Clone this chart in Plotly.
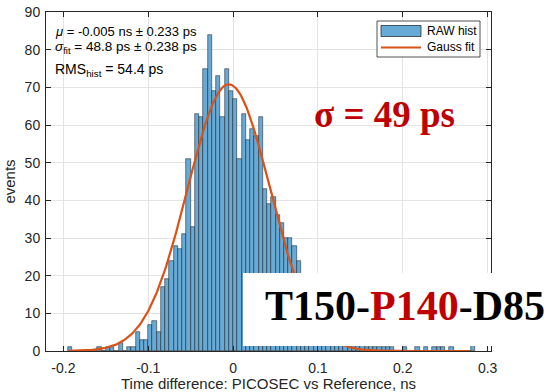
import numpy as np
import plotly.graph_objects as go

# ---------------- data ----------------
BIN_START = -0.195          # left edge of first histogram bin, ns
BIN_WIDTH = 0.005           # ns
COUNTS = [
    1, 0, 0, 0, 0, 0, 0, 1, 0, 1,          # -0.195 .. -0.150
    1, 0, 2, 0, 1, 1, 5, 3, 3, 7,          # -0.145 .. -0.100
    8, 5, 17, 19, 24, 28, 27, 31, 51, 33,  # -0.095 .. -0.050
    63, 62, 75, 84, 69, 73, 62, 75, 69, 67,  # -0.045 .. 0.000
    51, 63, 56, 59, 57, 62, 43, 39, 41, 36,  # 0.005 .. 0.050
    34, 30, 30, 28, 24, 18, 15, 13, 10, 8,   # 0.055 .. 0.100
    7, 6, 5, 4, 3, 3, 2, 2, 2, 2,            # 0.105 .. 0.150
    1, 2, 1, 1, 1, 1, 1, 0, 0, 1,            # 0.155 .. 0.200
    0, 0, 1, 0, 1, 0, 1, 1, 1, 0,            # 0.205 .. 0.250
    1, 0, 0, 0, 0, 2,                        # 0.255 .. 0.280
]

# Gauss fit parameters (from the fit annotation / curve)
FIT_MU = -0.005     # ns
FIT_SIGMA = 0.0488  # ns
FIT_AMP = 70.8      # events
FIT_X_MIN = -0.194
FIT_X_MAX = 0.279

X_TICKS = [-0.2, -0.1, 0, 0.1, 0.2, 0.3]
X_TICK_LABELS = ["-0.2", "-0.1", "0", "0.1", "0.2", "0.3"]
Y_TICKS = [0, 10, 20, 30, 40, 50, 60, 70, 80, 90]

SERIES_NAMES = ["RAW hist", "Gauss fit"]
STAT_LINES = [
    "<i>μ</i> = -0.005 ns ± 0.233 ps",
    "<i>σ</i><sub>fit</sub> = 48.8 ps ± 0.238 ps",
    "RMS<sub>hist</sub> = 54.4 ps",
]
SIGMA_LABEL = "σ = 49 ps"
SAMPLE_LABEL_PARTS = [("T150-", "#000000"), ("P140", "#C00000"), ("-D85", "#000000")]

# ---------------- figure ----------------
counts = np.array(COUNTS, dtype=float)
centers = BIN_START + BIN_WIDTH * (np.arange(len(counts)) + 0.5)

fx = np.linspace(FIT_X_MIN, FIT_X_MAX, 400)
fy = FIT_AMP * np.exp(-((fx - FIT_MU) ** 2) / (2 * FIT_SIGMA ** 2))

FONT = "Liberation Sans, Arial, sans-serif"
SERIF = "Liberation Serif, Times New Roman, serif"
AX = "#262626"
GRID = "#E3E3E3"
BAR_COLOR = "#66AAD7"
BAR_EDGE = "rgba(20,20,20,0.85)"
FIT_COLOR = "#D95319"

W, H = 551, 392
ML, MR, MT, MB = 46, 60, 12, 41
PW, PH = W - ML - MR, H - MT - MB


def px(x):   # figure pixel -> paper x
    return (x - ML) / PW


def py(y):   # figure pixel -> paper y
    return (H - MB - y) / PH


fig = go.Figure()
fig.add_trace(go.Bar(
    x=centers, y=counts, width=BIN_WIDTH,
    marker=dict(color=BAR_COLOR, line=dict(color=BAR_EDGE, width=0.6)),
    name=SERIES_NAMES[0], showlegend=False,
))
fig.add_trace(go.Scatter(
    x=fx, y=fy, mode="lines",
    line=dict(color=FIT_COLOR, width=2.2),
    name=SERIES_NAMES[1], showlegend=False,
))

fig.update_layout(
    width=W, height=H,
    margin=dict(l=ML, r=MR, t=MT, b=MB),
    paper_bgcolor="white", plot_bgcolor="white",
    font=dict(family=FONT, size=14, color=AX),
    bargap=0,
    showlegend=False,
)
fig.update_xaxes(
    range=[-0.2205, 0.304], automargin=False,
    tickvals=X_TICKS, ticktext=X_TICK_LABELS,
    ticks="inside", ticklen=5, tickcolor=AX,
    showline=True, linecolor=AX, linewidth=1, mirror="ticks",
    showgrid=True, gridcolor=GRID, gridwidth=1, zeroline=False,
    tickfont=dict(size=14, color=AX), ticklabelstandoff=4,
    title=dict(text="Time difference: PICOSEC vs Reference, ns",
               font=dict(size=15, color=AX), standoff=3),
)
fig.update_yaxes(
    range=[0, 90], automargin=False,
    tickvals=Y_TICKS,
    ticks="inside", ticklen=5, tickcolor=AX,
    showline=True, linecolor=AX, linewidth=1, mirror="ticks",
    showgrid=True, gridcolor=GRID, gridwidth=1, zeroline=False,
    tickfont=dict(size=14, color=AX), ticklabelstandoff=2,
    title=dict(text="events", font=dict(size=15, color=AX), standoff=5),
)

# statistics text (top-left)
for txt, yy, fs in zip(STAT_LINES, [31, 47, 70], [13, 13.5, 14]):
    fig.add_annotation(x=px(53), y=py(yy), xref="paper", yref="paper",
                       text=txt, showarrow=False, xanchor="left", yanchor="middle",
                       font=dict(family=FONT, size=fs, color="#000000"))

# legend drawn like the MATLAB legend box
fig.add_shape(type="rect", xref="paper", yref="paper",
              x0=px(377), x1=px(480), y0=py(57), y1=py(21),
              fillcolor="white", line=dict(color=AX, width=0.8), layer="above")
fig.add_shape(type="rect", xref="paper", yref="paper",
              x0=px(381), x1=px(421), y0=py(36.5), y1=py(25.5),
              fillcolor=BAR_COLOR, line=dict(color=BAR_EDGE, width=0.8), layer="above")
fig.add_shape(type="line", xref="paper", yref="paper",
              x0=px(381), x1=px(421), y0=py(47.5), y1=py(47.5),
              line=dict(color=FIT_COLOR, width=2.2), layer="above")
for name, yy in zip(SERIES_NAMES, [31.5, 47.5]):
    fig.add_annotation(x=px(425), y=py(yy), xref="paper", yref="paper",
                       text=name, showarrow=False, xanchor="left", yanchor="middle",
                       font=dict(family=FONT, size=12, color="#000000"))

# big red sigma label
fig.add_annotation(x=px(384), y=py(115), xref="paper", yref="paper",
                   text="<b>" + SIGMA_LABEL + "</b>", showarrow=False,
                   xanchor="center", yanchor="middle",
                   font=dict(family=SERIF, size=37, color="#C00000"))

# white box with the sample label
fig.add_shape(type="rect", xref="paper", yref="paper",
              x0=px(243), x1=px(560), y0=py(346), y1=py(273),
              fillcolor="white", line=dict(width=0), layer="above")
sample_text = "".join(
    '<span style="color:%s">%s</span>' % (c, t) for t, c in SAMPLE_LABEL_PARTS)
fig.add_annotation(x=px(547), y=py(306), xref="paper", yref="paper",
                   text="<b>" + sample_text + "</b>", showarrow=False,
                   xanchor="right", yanchor="middle",
                   font=dict(family=SERIF, size=42, color="#000000"))

fig.write_html(
    "out.html",
    config={"displayModeBar": False},
    post_script="document.body.style.margin='0';document.body.style.padding='0';",
)
